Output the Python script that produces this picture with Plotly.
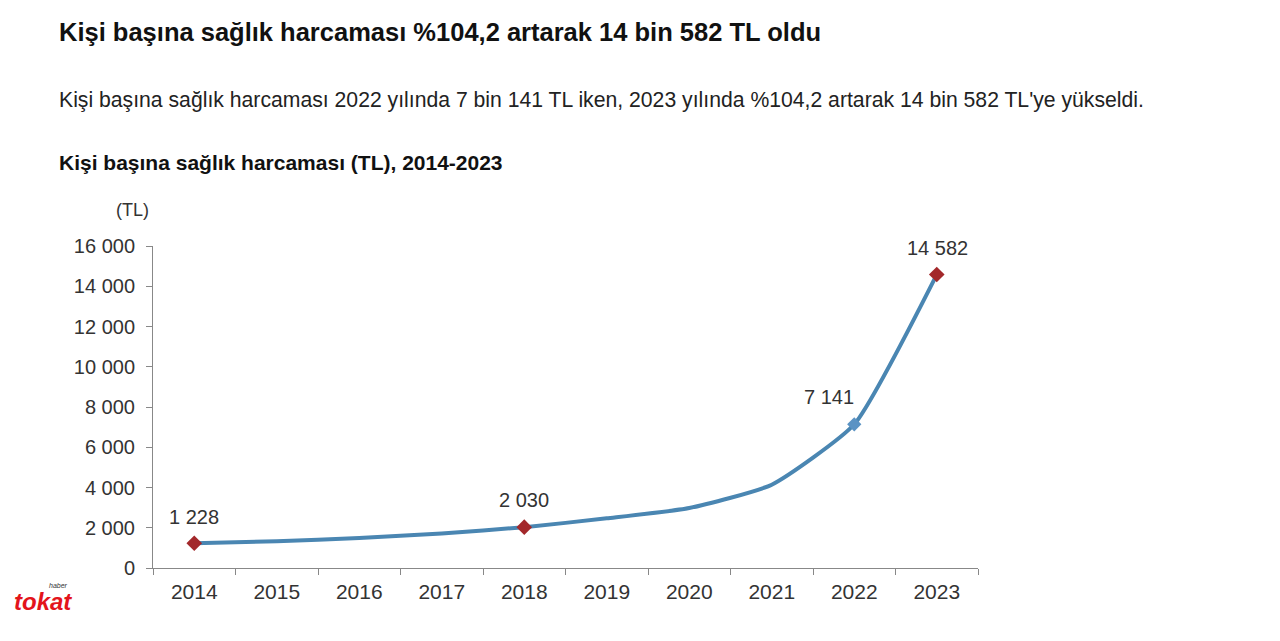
import plotly.graph_objects as go

years = ["2014", "2015", "2016", "2017", "2018", "2019", "2020", "2021", "2022", "2023"]
values = [1228, 1333, 1487, 1720, 2030, 2467, 2979, 4140, 7141, 14582]
label_years = ["2014", "2018", "2022", "2023"]
red_marker_years = ["2014", "2018", "2023"]
blue_marker_years = ["2022"]
y_ticks = [0, 2000, 4000, 6000, 8000, 10000, 12000, 14000, 16000]


def fmt(v):
    return f"{v:,}".replace(",", " ")


FONT = "Liberation Sans, Arial, sans-serif"
LINE_COLOR = "#4a86b2"
RED = "#a3282b"
ML, MR, MT, MB = 153, 302, 246, 73

fig = go.Figure()
fig.add_trace(go.Scatter(
    x=years, y=values, mode="lines",
    line=dict(color=LINE_COLOR, width=4, shape="spline", smoothing=0.5),
    hoverinfo="skip", showlegend=False,
))
fig.add_trace(go.Scatter(
    x=red_marker_years, y=[values[years.index(y)] for y in red_marker_years], mode="markers",
    marker=dict(symbol="diamond", size=12, color=RED),
    showlegend=False,
))
fig.add_trace(go.Scatter(
    x=blue_marker_years, y=[values[years.index(y)] for y in blue_marker_years], mode="markers",
    marker=dict(symbol="diamond", size=11, color="#5b93c4"),
    showlegend=False,
))

label_offsets = {"2014": (0, 26), "2018": (0, 27), "2022": (-25, 27), "2023": (1, 27)}
for yr in label_years:
    v = values[years.index(yr)]
    dx, dy = label_offsets[yr]
    fig.add_annotation(x=years.index(yr), y=v, xref="x", yref="y", text=fmt(v), showarrow=False,
                       xshift=dx, yshift=dy, font=dict(family=FONT, size=20, color="#333"))

fig.update_layout(
    width=1280, height=641,
    paper_bgcolor="white", plot_bgcolor="white",
    margin=dict(l=ML, r=MR, t=MT, b=MB),
    font=dict(family=FONT, color="#222"),
)
fig.update_xaxes(
    type="category", showgrid=False, showline=True, linecolor="#888", linewidth=1,
    ticks="outside", tickson="boundaries", ticklen=6, tickcolor="#888",
    ticklabelstandoff=5,
    tickfont=dict(family=FONT, size=21, color="#333"), range=[-0.5, 9.5],
)
fig.update_yaxes(
    range=[0, 16000], tickvals=y_ticks, ticktext=[fmt(t) for t in y_ticks],
    showgrid=False, showline=True, linecolor="#888", linewidth=1, zeroline=False,
    ticks="outside", ticklen=6, tickcolor="#888", ticklabelstandoff=7,
    tickfont=dict(family=FONT, size=20, color="#333"),
)

page_texts = [
    (57, 32, "<b>Kişi başına sağlık harcaması %104,2 artarak 14 bin 582 TL oldu</b>", 25.5, "#111", "left"),
    (57, 100, "Kişi başına sağlık harcaması 2022 yılında 7 bin 141 TL iken, 2023 yılında %104,2 artarak 14 bin 582 TL'ye yükseldi.", 21.2, "#222", "left"),
    (57, 163, "<b>Kişi başına sağlık harcaması (TL), 2014-2023</b>", 21, "#111", "left"),
    (151, 210, "(TL)", 18, "#333", "right"),
    (12, 601, "<i><b>tokat</b></i>", 24, "#e3141b", "left"),
    (47, 585, "<i>haber</i>", 7, "#333", "left"),
]
plot_w = 1280 - ML - MR
plot_h = 641 - MT - MB
for px, py, txt, size, col, anchor in page_texts:
    fig.add_annotation(x=(px - ML) / plot_w, y=(641 - MB - py) / plot_h, xref="paper", yref="paper",
                       text=txt, showarrow=False, xanchor=anchor, yanchor="middle",
                       font=dict(family=FONT, size=size, color=col))

fig.write_html("out.html", config={"displayModeBar": False},
               post_script="document.body.style.margin='0';")
